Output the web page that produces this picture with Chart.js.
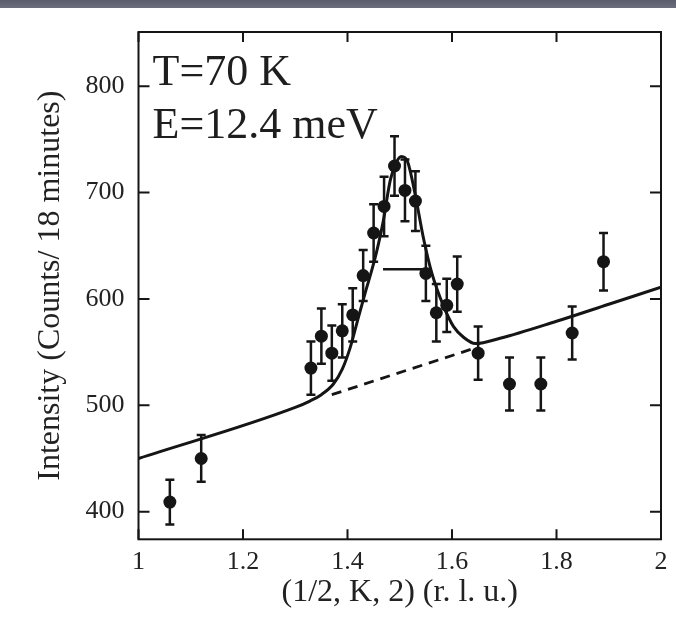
<!DOCTYPE html>
<html>
<head>
<meta charset="utf-8">
<script src="https://cdn.jsdelivr.net/npm/chart.js@4.4.1/dist/chart.umd.min.js"></script>
<style>
  html, body { margin: 0; padding: 0; background: #fff; }
  #wrap { position: relative; width: 676px; height: 638px; }
  #band { position: absolute; left: 0; top: 0; width: 676px; height: 8px; background: linear-gradient(#5b5d6d, #6c6e7e); }
  canvas { display: block; }
</style>
</head>
<body>
<div id="wrap">
  <canvas id="chart" width="676" height="638"></canvas>
  <div id="band"></div>
</div>
<script>
// ========================
// DATA
// ========================
const kValues = [1.06, 1.12, 1.33, 1.35, 1.37, 1.39, 1.41, 1.43, 1.45, 1.47, 1.49, 1.51, 1.53,
  1.55, 1.57, 1.59, 1.61, 1.65, 1.71, 1.77, 1.83, 1.89];
const counts = [409, 450, 535, 565, 549, 570, 585, 622, 662, 687, 725, 702, 692,
  624, 587, 594, 614, 549, 520, 520, 568, 635];
const countErrors = [21, 22, 25, 26, 26, 25, 25, 24, 27, 28, 28, 29, 28,
  26, 27, 25, 26, 25, 25, 25, 25, 27];

// fitted curve
const fitK = [1.0, 1.3, 1.328, 1.35, 1.373, 1.39, 1.405, 1.421, 1.434, 1.447, 1.456, 1.468,
  1.482, 1.493, 1.503, 1.515, 1.53, 1.545, 1.561, 1.584, 1.603, 1.622, 1.645, 1.692, 1.8, 1.9, 2.0];
const fitCounts = [450, 498, 504, 510, 520, 534, 554, 583, 606, 628, 645, 672,
  712, 728, 734, 729, 697, 658, 625, 593, 574, 564, 558, 563, 579, 595, 611];

// dashed background under the peak
const backgroundK = [1.37, 1.645];
const backgroundCounts = [510, 554];

// resolution bar
const resolutionK = [1.468, 1.55];
const resolutionCounts = [628, 628];

const xTicks = [1, 1.2, 1.4, 1.6, 1.8, 2];
const xTickLabels = ["1", "1.2", "1.4", "1.6", "1.8", "2"];
const yTicks = [400, 500, 600, 700, 800];
const labelLines = ["T=70 K", "E=12.4 meV"];

const INK = "#151515";
Chart.defaults.font.family = "'Liberation Serif', 'Times New Roman', serif";
Chart.defaults.color = "#222";

const toXY = (xs, ys) => xs.map((x, i) => ({ x: x, y: ys[i] }));

// ========================
// PLUGINS
// ========================
// box frame + inward ticks on all four sides
const framePlugin = {
  id: "frame",
  afterDraw(chart) {
    const { ctx, chartArea: a, scales } = chart;
    ctx.save();
    ctx.strokeStyle = INK;
    ctx.lineWidth = 2;
    ctx.strokeRect(a.left, a.top, a.right - a.left, a.bottom - a.top);
    ctx.beginPath();
    xTicks.forEach((v) => {
      const px = scales.x.getPixelForValue(v);
      ctx.moveTo(px, a.bottom); ctx.lineTo(px, a.bottom - 10);
      ctx.moveTo(px, a.top); ctx.lineTo(px, a.top + 10);
    });
    yTicks.forEach((v) => {
      const py = scales.y.getPixelForValue(v);
      ctx.moveTo(a.left, py); ctx.lineTo(a.left + 11, py);
      ctx.moveTo(a.right, py); ctx.lineTo(a.right - 11, py);
    });
    ctx.stroke();

    // labels in the corner
    ctx.fillStyle = "#1e1e1e";
    ctx.font = "44px 'Liberation Serif'";
    ctx.textBaseline = "alphabetic";
    ctx.fillText(labelLines[0], a.left + 14, a.top + 53);
    ctx.fillText(labelLines[1], a.left + 14, a.top + 106);
    ctx.restore();
  },
};

// vertical error bars with caps
const errorBarPlugin = {
  id: "errorBars",
  beforeDatasetsDraw(chart) {
    const { ctx, scales } = chart;
    ctx.save();
    ctx.strokeStyle = INK;
    ctx.lineWidth = 2.5;
    ctx.beginPath();
    kValues.forEach((k, i) => {
      const px = scales.x.getPixelForValue(k);
      const top = scales.y.getPixelForValue(counts[i] + countErrors[i]);
      const bot = scales.y.getPixelForValue(counts[i] - countErrors[i]);
      ctx.moveTo(px, top); ctx.lineTo(px, bot);
      ctx.moveTo(px - 4.5, top); ctx.lineTo(px + 4.5, top);
      ctx.moveTo(px - 4.5, bot); ctx.lineTo(px + 4.5, bot);
    });
    ctx.stroke();
    ctx.restore();
  },
};

// ========================
// CHART
// ========================
new Chart(document.getElementById("chart"), {
  type: "line",
  data: {
    datasets: [
      {
        data: toXY(kValues, counts),
        showLine: false,
        pointRadius: 6.5,
        pointBackgroundColor: INK,
        pointBorderWidth: 0,
        order: 0,
      },
      {
        data: toXY(fitK, fitCounts),
        borderColor: INK,
        borderWidth: 3,
        pointRadius: 0,
        cubicInterpolationMode: "monotone",
        order: 1,
      },
      {
        data: toXY(backgroundK, backgroundCounts),
        borderColor: INK,
        borderWidth: 2.8,
        borderDash: [10, 7],
        pointRadius: 0,
        order: 2,
      },
      {
        data: toXY(resolutionK, resolutionCounts),
        borderColor: INK,
        borderWidth: 2.5,
        pointRadius: 0,
        order: 3,
      },
    ],
  },
  options: {
    responsive: false,
    devicePixelRatio: 1,
    animation: false,
    events: [],
    layout: { padding: { top: 32, right: 15, left: 0, bottom: 0 } },
    plugins: { legend: { display: false }, tooltip: { enabled: false } },
    scales: {
      x: {
        type: "linear",
        min: 1,
        max: 2,
        afterBuildTicks: (s) => { s.ticks = xTicks.map((v) => ({ value: v })); },
        afterFit: (s) => { s.height = 98.7; },
        grid: { display: false, drawTicks: false },
        border: { display: false },
        ticks: {
          font: { size: 26 },
          padding: 7,
          maxRotation: 0,
          callback: (v, i) => xTickLabels[i],
        },
        title: {
          display: true,
          text: "(1/2, K, 2) (r. l. u.)",
          font: { size: 32 },
          padding: { top: 0, bottom: 26 },
        },
      },
      y: {
        min: 374,
        max: 851,
        afterBuildTicks: (s) => { s.ticks = yTicks.map((v) => ({ value: v })); },
        afterFit: (s) => { s.width = 138.5; },
        grid: { display: false, drawTicks: false },
        border: { display: false },
        ticks: { font: { size: 26 }, padding: 14 },
        title: {
          display: true,
          text: "Intensity (Counts/ 18 minutes)",
          font: { size: 32 },
          padding: { top: 31, bottom: 0 },
        },
      },
    },
  },
  plugins: [errorBarPlugin, framePlugin],
});
</script>
</body>
</html>
